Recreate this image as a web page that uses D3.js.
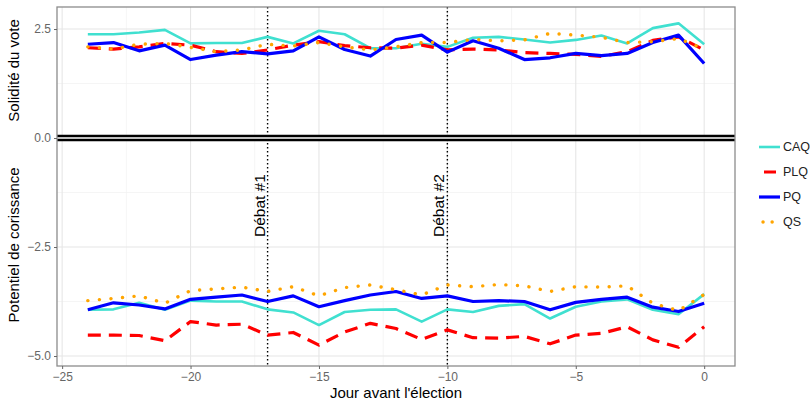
<!DOCTYPE html>
<html>
<head>
<meta charset="utf-8">
<script src="https://cdn.jsdelivr.net/npm/d3@7"></script>
<style>
  body { margin: 0; background: #fff; }
  text { font-family: "Liberation Sans", Arial, sans-serif; }
</style>
</head>
<body>
<div id="chart"></div>
<script>
// days before the election
const days = [-24, -23, -22, -21, -20, -19, -18, -17, -16, -15, -14, -13, -12,
              -11, -10, -9, -8, -7, -6, -5, -4, -3, -2, -1, 0]

// top half: solidité du vote
const solCAQ = [2.38, 2.38, 2.42, 2.48, 2.17, 2.18, 2.18, 2.32, 2.17, 2.46, 2.38, 2.06, 2.06,
                2.16, 2.09, 2.30, 2.32, 2.26, 2.19, 2.25, 2.35, 2.17, 2.52, 2.63, 2.15]
const solPLQ = [2.07, 2.04, 2.09, 2.17, 2.13, 1.98, 1.94, 2.02, 2.13, 2.21, 2.12, 2.07, 2.06,
                2.13, 2.02, 2.04, 2.02, 1.96, 1.94, 1.92, 1.87, 1.98, 2.24, 2.32, 2.02]
const solPQ  = [2.15, 2.19, 2.00, 2.13, 1.80, 1.90, 1.98, 1.93, 2.00, 2.32, 2.03, 1.88, 2.26,
                2.36, 1.97, 2.23, 2.06, 1.80, 1.84, 1.94, 1.89, 1.94, 2.19, 2.36, 1.71]
const solQS  = [2.09, 2.04, 2.15, 2.17, 2.08, 1.98, 2.02, 2.15, 2.11, 2.19, 2.09, 2.02, 2.09,
                2.19, 2.19, 2.26, 2.23, 2.25, 2.40, 2.36, 2.31, 2.19, 2.21, 2.28, 2.04]

// bottom half: potentiel de croissance
const potCAQ = [-3.94, -3.93, -3.78, -3.94, -3.73, -3.75, -3.75, -3.93, -4.00, -4.29, -3.99, -3.94, -3.93,
                -4.21, -3.93, -3.99, -3.85, -3.81, -4.14, -3.87, -3.75, -3.70, -3.94, -4.04, -3.58]
const potPLQ = [-4.52, -4.52, -4.53, -4.65, -4.21, -4.29, -4.27, -4.52, -4.46, -4.75, -4.45, -4.25, -4.37,
                -4.62, -4.40, -4.58, -4.59, -4.55, -4.72, -4.52, -4.48, -4.33, -4.63, -4.80, -4.33]
const potPQ  = [-3.94, -3.78, -3.83, -3.92, -3.70, -3.65, -3.60, -3.75, -3.62, -3.87, -3.73, -3.60, -3.52,
                -3.68, -3.62, -3.75, -3.73, -3.75, -3.94, -3.77, -3.70, -3.65, -3.88, -3.98, -3.79]
const potQS  = [-3.73, -3.68, -3.62, -3.79, -3.50, -3.46, -3.42, -3.52, -3.41, -3.62, -3.43, -3.37, -3.48,
                -3.60, -3.37, -3.41, -3.36, -3.39, -3.52, -3.41, -3.42, -3.39, -3.79, -3.96, -3.59]

const parties = ["CAQ", "PLQ", "PQ", "QS"]
const debates = [{day: -17, label: "Débat #1"}, {day: -10, label: "Débat #2"}]
const xTicks = [-25, -20, -15, -10, -5, 0]
const yTicks = [2.5, 0, -2.5, -5]

const W = 811, H = 404
const PANEL = {LEFT: 57, RIGHT: 735, TOP: 7, BOTTOM: 366}

const styles = {
  CAQ: {color: "#40e0d0", width: 2.6, dash: null, cap: "butt"},
  PLQ: {color: "#ff0000", width: 3.2, dash: "13 8", cap: "butt"},
  PQ:  {color: "#0000ff", width: 3.2, dash: null, cap: "butt"},
  QS:  {color: "#ffa500", width: 3.4, dash: "0.1 11.5", cap: "round"}
}

const svg = d3.select("#chart").append("svg")
  .attr("width", W).attr("height", H)

const x = d3.scaleLinear().domain([-25.2, 1.2]).range([PANEL.LEFT, PANEL.RIGHT])
const y = d3.scaleLinear().domain([-5.229, 3.005]).range([PANEL.BOTTOM, PANEL.TOP])

const fmt = v => d3.format(".1f")(v).replace("-", "\u2212")

// grid
const grid = svg.append("g")
grid.selectAll(".xminor").data([-22.5, -17.5, -12.5, -7.5, -2.5]).enter().append("line")
  .attr("x1", d => x(d)).attr("x2", d => x(d))
  .attr("y1", PANEL.TOP).attr("y2", PANEL.BOTTOM)
  .attr("stroke", "#f3f3f3").attr("stroke-width", 0.8)
grid.selectAll(".yminor").data([1.25, -1.25, -3.75]).enter().append("line")
  .attr("x1", PANEL.LEFT).attr("x2", PANEL.RIGHT)
  .attr("y1", d => y(d)).attr("y2", d => y(d))
  .attr("stroke", "#f3f3f3").attr("stroke-width", 0.8)
grid.selectAll(".xmajor").data(xTicks).enter().append("line")
  .attr("x1", d => x(d)).attr("x2", d => x(d))
  .attr("y1", PANEL.TOP).attr("y2", PANEL.BOTTOM)
  .attr("stroke", "#e6e6e6").attr("stroke-width", 1.1)
grid.selectAll(".ymajor").data(yTicks).enter().append("line")
  .attr("x1", PANEL.LEFT).attr("x2", PANEL.RIGHT)
  .attr("y1", d => y(d)).attr("y2", d => y(d))
  .attr("stroke", "#e6e6e6").attr("stroke-width", 1.1)

// zero separator
svg.append("line")
  .attr("x1", PANEL.LEFT).attr("x2", PANEL.RIGHT)
  .attr("y1", y(0)).attr("y2", y(0))
  .attr("stroke", "#000").attr("stroke-width", 6.5)
svg.append("line")
  .attr("x1", PANEL.LEFT).attr("x2", PANEL.RIGHT)
  .attr("y1", y(0)).attr("y2", y(0))
  .attr("stroke", "#fff").attr("stroke-width", 1.3)

// debate markers
debates.forEach(dbt => {
  svg.append("line")
    .attr("x1", x(dbt.day)).attr("x2", x(dbt.day))
    .attr("y1", PANEL.TOP).attr("y2", PANEL.BOTTOM)
    .attr("stroke", "#000").attr("stroke-width", 1.4)
    .attr("stroke-dasharray", "1.4 2.6")
  svg.append("text")
    .attr("transform", `translate(${x(dbt.day) - 3},${y(-1.55)}) rotate(-90)`)
    .attr("text-anchor", "middle")
    .attr("font-size", 15.5)
    .attr("fill", "#000")
    .text(dbt.label)
})

// lines
const series = {
  CAQ: [solCAQ, potCAQ], PLQ: [solPLQ, potPLQ], PQ: [solPQ, potPQ], QS: [solQS, potQS]
}
const line = d3.line().x((d, i) => x(days[i])).y(d => y(d))

parties.forEach(p => {
  const st = styles[p]
  series[p].forEach(vals => {
    svg.append("path")
      .datum(vals)
      .attr("d", line)
      .attr("fill", "none")
      .attr("stroke", st.color)
      .attr("stroke-width", st.width)
      .attr("stroke-dasharray", st.dash)
      .attr("stroke-linecap", st.cap)
      .attr("stroke-linejoin", "round")
  })
})

// panel border
svg.append("rect")
  .attr("x", PANEL.LEFT).attr("y", PANEL.TOP)
  .attr("width", PANEL.RIGHT - PANEL.LEFT).attr("height", PANEL.BOTTOM - PANEL.TOP)
  .attr("fill", "none").attr("stroke", "#8c8c8c").attr("stroke-width", 1.3)

// axes
const xAxis = svg.append("g")
  .attr("transform", `translate(0,${PANEL.BOTTOM})`)
  .call(d3.axisBottom(x).tickValues(xTicks).tickSize(3).tickPadding(3)
        .tickFormat(d => String(d).replace("-", "\u2212")))
const yAxis = svg.append("g")
  .attr("transform", `translate(${PANEL.LEFT},0)`)
  .call(d3.axisLeft(y).tickValues(yTicks).tickSize(3).tickPadding(3).tickFormat(fmt))

;[xAxis, yAxis].forEach(a => {
  a.select(".domain").remove()
  a.selectAll(".tick line").attr("stroke", "#666")
  a.selectAll(".tick text").attr("fill", "#666").attr("font-size", 12)
    .style("font-family", "Liberation Sans, Arial, sans-serif")
})

// titles
svg.append("text")
  .attr("x", (PANEL.LEFT + PANEL.RIGHT) / 2).attr("y", 398)
  .attr("text-anchor", "middle").attr("font-size", 15)
  .text("Jour avant l'élection")
svg.append("text")
  .attr("transform", `translate(19,${y(1.55)}) rotate(-90)`)
  .attr("text-anchor", "middle").attr("font-size", 15)
  .text("Solidité du vote")
svg.append("text")
  .attr("transform", `translate(19,${y(-2.45)}) rotate(-90)`)
  .attr("text-anchor", "middle").attr("font-size", 15)
  .text("Potentiel de corissance")

// legend
const legend = svg.append("g").attr("transform", "translate(758,147)")
parties.forEach((p, i) => {
  const st = styles[p]
  const g = legend.append("g").attr("transform", `translate(0,${i * 25})`)
  g.append("line")
    .attr("x1", p === "QS" ? 5 : 1).attr("x2", 22).attr("y1", 0).attr("y2", 0)
    .attr("stroke", st.color)
    .attr("stroke-width", st.width)
    .attr("stroke-dasharray", p === "PLQ" ? "0 5 12 10" : st.dash === null ? null : "0.1 9")
    .attr("stroke-linecap", st.cap)
  g.append("text")
    .attr("x", 25).attr("y", 0).attr("dy", "0.35em")
    .attr("font-size", 12.5).attr("fill", "#222")
    .text(p)
})
</script>
</body>
</html>
